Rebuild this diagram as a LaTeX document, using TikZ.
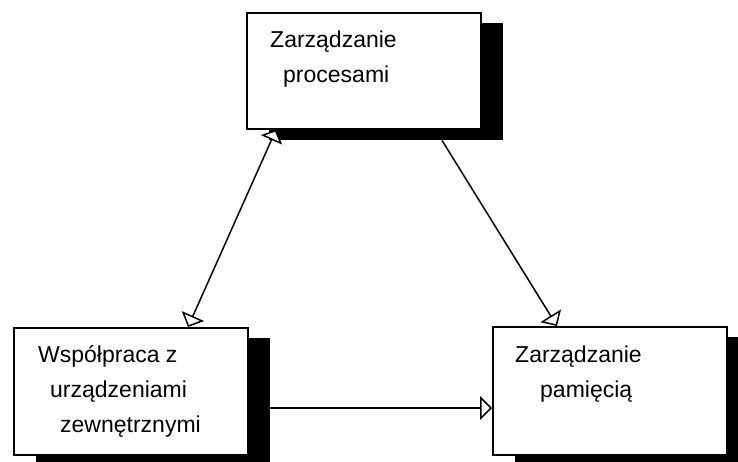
\documentclass[tikz,border=0pt]{standalone}
\usepackage{fontspec}
\setmainfont{Liberation Sans}
\usetikzlibrary{positioning, arrows.meta, calc}

\begin{document}
\begin{tikzpicture}[x=1pt, y=-1pt,
      blok/.style={draw=black, fill=white, line width=1.8pt, minimum width=234pt, minimum height=#1, anchor=north west, inner sep=0pt},
      cien/.style={fill=black, minimum width=234pt, minimum height=#1, anchor=north west, inner sep=0pt},
      napis/.style={anchor=base west, inner sep=0pt, font=\fontsize{23}{35}\selectfont},
      strzalka/.style={line width=1.5pt, arrows={-Triangle[fill=white, length=12pt 0 0, width=24pt 0 0]}},
      strzalka2/.style={line width=1.5pt, arrows={Triangle[fill=white, length=11pt 0 0, width=23pt 0 0]-Triangle[fill=white, length=12pt 0 0, width=24pt 0 0]}}
    ]
      \useasboundingbox (0,0) rectangle (738,461);

      % cienie
      \node[cien=117pt] (procesy-cien) at (269,23) {};
      \node[cien=127pt] (wspolpraca-cien) at (36,338) {};
      \node[cien=128pt] (pamiec-cien) at (515,337) {};

      % bloki
      \node[blok=116pt] (procesy) at (246,12) {};
      \node[blok=127pt] (wspolpraca) at (13,327) {};
      \node[blok=128pt] (pamiec) at (492,326) {};

      \node[napis] (procesy-1) at (270,47) {Zarządzanie};
      \node[napis] (procesy-2) at (283,82) {procesami};
      \node[napis] (wspolpraca-1) at (38,362) {Współpraca z};
      \node[napis] (wspolpraca-2) at (50,397) {urządzeniami};
      \node[napis] (wspolpraca-3) at (60,432) {zewnętrznymi};
      \node[napis] (pamiec-1) at (515,362) {Zarządzanie};
      \node[napis] (pamiec-2) at (540,397) {pamięcią};

      % polaczenia
      \draw[strzalka2] ($(procesy.south west)+(30,0)$) -- ($(wspolpraca.north west)+(175,0)$);
      \draw[strzalka] ($(procesy-cien.south west)+(173,0)$) -- ($(pamiec.north west)+(65,0)$);
      \draw[strzalka] ($(wspolpraca-cien.north east)+(0,70)$) -- ($(pamiec.north west)+(0,82)$);
    \end{tikzpicture}
\end{document}
